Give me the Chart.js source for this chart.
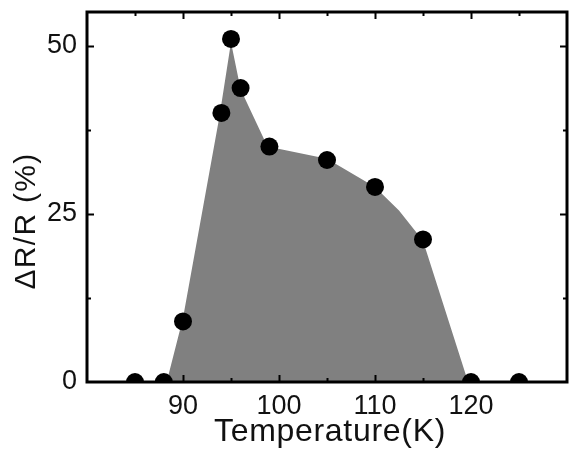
<!DOCTYPE html>
<html>
<head>
<meta charset="utf-8">
<script src="https://cdn.jsdelivr.net/npm/chart.js@4"></script>
<style>
  html, body { margin: 0; padding: 0; background: #fff; overflow: hidden; }
  #wrap { width: 569px; height: 454px; }
</style>
</head>
<body>
<div id="wrap"><canvas id="chart"></canvas></div>
<script>
// measured points
const temps = [85, 88, 90, 94, 95, 96, 99, 105, 110, 115, 120, 125];
const dR = [0, 0, 9, 40, 51, 43.7, 35, 33, 29, 21.2, 0, 0];

// outline of the grey shaded region
const shadeT = [88.3, 90, 93.8, 95, 96, 98.8, 105, 110, 112.5, 115, 119.7];
const shadeR = [0, 9.5, 39.5, 50.5, 43.5, 35, 33.2, 29, 25.5, 21, 0];

const xLabels = [90, 100, 110, 120];
const yLabels = [0, 25, 50];
const xMarks = [85, 90, 95, 100, 105, 110, 115, 120, 125];
const yMarks = [12.5, 25, 37.5, 50];

const xTitle = "Temperature(K)";
const yTitle = "ΔR/R (%)";

const FONT = "'Liberation Sans', Arial, sans-serif";

// box, inward ticks and axis titles
const frame = {
  id: "frame",
  afterDatasetsDraw(chart) {
    const { ctx, chartArea: a, scales } = chart;
    ctx.save();
    ctx.strokeStyle = "#000";
    ctx.lineWidth = 2;
    xMarks.forEach(v => {
      const px = Math.round(scales.x.getPixelForValue(v)) + 0.5;
      const len = xLabels.includes(v) ? 7 : 4;
      ctx.beginPath();
      ctx.moveTo(px, a.bottom); ctx.lineTo(px, a.bottom - len);
      ctx.moveTo(px, a.top); ctx.lineTo(px, a.top + len);
      ctx.stroke();
    });
    yMarks.forEach(v => {
      const py = Math.round(scales.y.getPixelForValue(v)) + 0.5;
      const len = yLabels.includes(v) ? 7 : 4;
      ctx.beginPath();
      ctx.moveTo(a.left, py); ctx.lineTo(a.left + len, py);
      ctx.moveTo(a.right, py); ctx.lineTo(a.right - len, py);
      ctx.stroke();
    });
    ctx.lineWidth = 3;
    ctx.strokeRect(a.left, a.top, a.right - a.left, a.bottom - a.top);

    ctx.fillStyle = "#111";
    ctx.textAlign = "center";
    ctx.textBaseline = "middle";
    ctx.font = "32px " + FONT;
    ctx.letterSpacing = "0.7px";
    ctx.fillText(xTitle, (a.left + a.right) / 2 + 3, a.bottom + 50);

    ctx.font = "30px " + FONT;
    ctx.letterSpacing = "1.3px";
    ctx.translate(27, (a.top + a.bottom) / 2 + 24);
    ctx.rotate(-Math.PI / 2);
    ctx.fillText(yTitle, 0, 0);
    ctx.restore();
  }
};

new Chart(document.getElementById("chart"), {
  type: "line",
  data: {
    datasets: [
      {
        type: "scatter",
        data: temps.map((t, i) => ({ x: t, y: dR[i] })),
        backgroundColor: "#000",
        borderWidth: 0,
        pointRadius: 9,
        clip: 0,
        order: 0
      },
      {
        data: shadeT.map((t, i) => ({ x: t, y: shadeR[i] })),
        backgroundColor: "#808080",
        borderWidth: 0,
        pointRadius: 0,
        fill: "origin",
        tension: 0,
        order: 1
      }
    ]
  },
  plugins: [frame],
  options: {
    responsive: true,
    maintainAspectRatio: false,
    animation: false,
    layout: { autoPadding: false, padding: { top: 12, right: 2, left: 0, bottom: 0 } },
    plugins: { legend: { display: false }, tooltip: { enabled: false } },
    scales: {
      x: {
        type: "linear",
        min: 80,
        max: 130,
        afterBuildTicks: s => { s.ticks = xLabels.map(v => ({ value: v })); },
        afterFit: s => { s.height = 72; s.paddingLeft = 0; s.paddingRight = 0; },
        grid: { display: false, drawTicks: false },
        border: { display: false },
        ticks: { color: "#111", padding: 8, font: { family: FONT, size: 27 } }
      },
      y: {
        min: 0,
        max: 55,
        afterBuildTicks: s => { s.ticks = yLabels.map(v => ({ value: v })); },
        afterFit: s => { s.width = 87; s.paddingTop = 0; s.paddingBottom = 0; },
        grid: { display: false, drawTicks: false },
        border: { display: false },
        ticks: { color: "#111", padding: 10, font: { family: FONT, size: 27 } }
      }
    }
  }
});
</script>
</body>
</html>
